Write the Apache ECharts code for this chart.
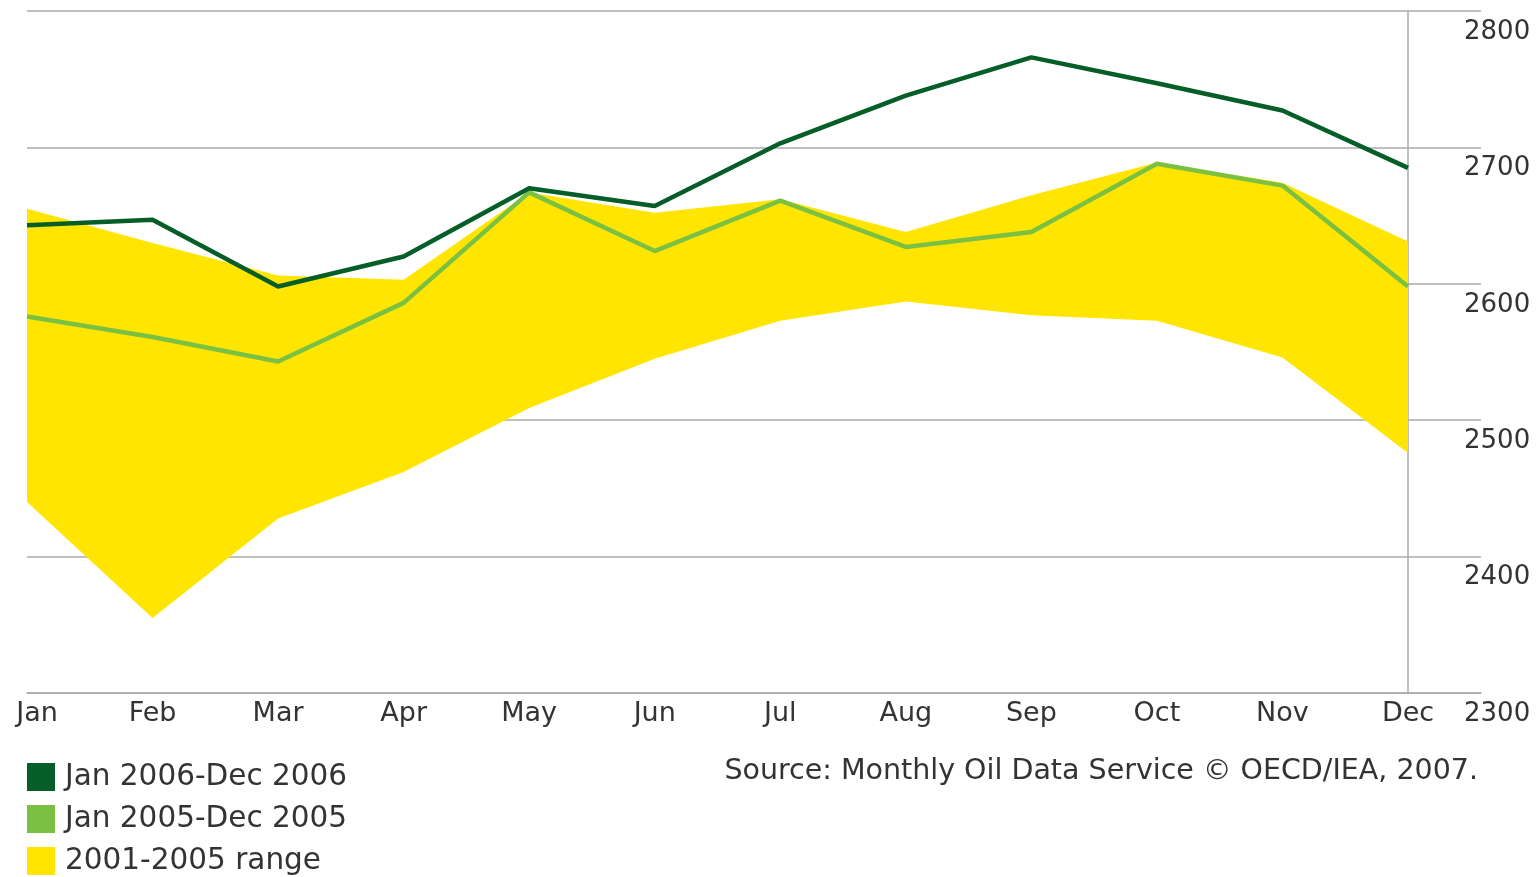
<!DOCTYPE html>
<html>
<head>
<meta charset="utf-8">
<script src="https://cdn.jsdelivr.net/npm/echarts@6/dist/echarts.min.js"></script>
<style>
html,body{margin:0;padding:0;background:#fff;}
#chart{width:1536px;height:877px;}
</style>
</head>
<body>
<div id="chart"></div>
<script>
var months = ['Jan','Feb','Mar','Apr','May','Jun','Jul','Aug','Sep','Oct','Nov','Dec'];
var y2006 = [2643,2647,2598,2620,2670,2657,2703,2738,2766,2747,2727,2685];
var y2005 = [2576,2561,2543,2586,2667,2624,2661,2627,2638,2688,2672,2598];
var rangeHigh = [2655,2630,2606,2603,2667,2652,2662,2638,2665,2689,2674,2631];
var rangeLow = [2440,2355,2428,2462,2509,2545,2573,2587,2577,2573,2546,2476];
var yMin = 2300, yMax = 2800, yStep = 100;
var seriesNames = ['Jan 2006-Dec 2006','Jan 2005-Dec 2005','2001-2005 range'];
var sourceText = 'Source: Monthly Oil Data Service \u00A9 OECD/IEA, 2007.';

var rangeDiff = rangeHigh.map(function(v,i){ return v - rangeLow[i]; });

var FONT = 'DejaVu Sans';
var GRID_GRAY = '#ababab';
var TEXT = '#333333';

function legendFor(name, top){
  return {
    orient: 'vertical',
    left: 27,
    top: top,
    padding: 0,
    itemWidth: 28,
    itemHeight: 28,
    icon: 'rect',
    data: [name],
    selectedMode: false,
    textStyle: { color: TEXT, fontFamily: FONT, fontSize: 29.5, padding: [0,0,0,5] }
  };
}

var chart = echarts.init(document.getElementById('chart'));
chart.setOption({
  animation: false,
  backgroundColor: '#ffffff',
  grid: [
    { left: 27, right: 128, top: 11, bottom: 184, containLabel: false },
    { left: 27, right: 55, top: 11, bottom: 184, containLabel: false }
  ],
  xAxis: [
    {
      gridIndex: 0,
      type: 'category',
      data: months,
      boundaryGap: false,
      axisLine: { show: false },
      axisTick: { show: false },
      splitLine: { show: false },
      axisLabel: {
        interval: 0,
        margin: 7,
        color: TEXT,
        fontFamily: FONT,
        fontSize: 27,
        formatter: function(v, i){
          if (i === 0) return '{first|' + v + '}';
          return v;
        },
        rich: { first: { padding: [0,0,0,20], color: TEXT, fontFamily: FONT, fontSize: 27 } }
      }
    },
    {
      gridIndex: 1,
      type: 'value',
      min: 0,
      max: 1,
      axisLine: { show: true, lineStyle: { color: GRID_GRAY, width: 1.5 } },
      axisTick: { show: false },
      axisLabel: { show: false },
      splitLine: { show: false }
    }
  ],
  yAxis: [
    {
      gridIndex: 0,
      type: 'value',
      position: 'right',
      min: yMin,
      max: yMax,
      interval: yStep,
      axisLine: { show: true, lineStyle: { color: GRID_GRAY, width: 1.5 } },
      axisTick: { show: false },
      axisLabel: { show: false },
      splitLine: { show: false }
    },
    {
      gridIndex: 1,
      type: 'value',
      position: 'right',
      min: yMin,
      max: yMax,
      interval: yStep,
      axisLine: { show: false },
      axisTick: { show: false },
      splitLine: { show: true, lineStyle: { color: GRID_GRAY, width: 1.5 } },
      axisLabel: {
        margin: -17,
        align: 'left',
        verticalAlign: 'top',
        padding: [8,0,0,0],
        color: TEXT,
        fontFamily: FONT,
        fontSize: 26,
        formatter: function(v){ return String(v); }
      }
    }
  ],
  legend: [
    legendFor(seriesNames[0], 762),
    legendFor(seriesNames[1], 804),
    legendFor(seriesNames[2], 846)
  ],
  graphic: [{
    type: 'text',
    right: 58,
    top: 757,
    style: { text: sourceText, fill: TEXT, font: '28.5px "DejaVu Sans"' }
  }],
  series: [
    {
      name: 'rangeLowBase',
      type: 'line',
      xAxisIndex: 0, yAxisIndex: 0,
      stack: 'range',
      data: rangeLow,
      symbol: 'none',
      lineStyle: { width: 0, opacity: 0 },
      silent: true,
      z: 1
    },
    {
      name: seriesNames[2],
      type: 'line',
      xAxisIndex: 0, yAxisIndex: 0,
      stack: 'range',
      data: rangeDiff,
      symbol: 'none',
      lineStyle: { width: 0, opacity: 0 },
      itemStyle: { color: '#ffe500' },
      areaStyle: { color: '#ffe500', opacity: 1 },
      z: 2
    },
    {
      name: seriesNames[1],
      type: 'line',
      xAxisIndex: 0, yAxisIndex: 0,
      data: y2005,
      symbol: 'none',
      itemStyle: { color: '#7ac143' },
      lineStyle: { color: '#7ac143', width: 4.5 },
      z: 3
    },
    {
      name: seriesNames[0],
      type: 'line',
      xAxisIndex: 0, yAxisIndex: 0,
      data: y2006,
      symbol: 'none',
      itemStyle: { color: '#055e28' },
      lineStyle: { color: '#055e28', width: 4.5 },
      z: 4
    }
  ]
});
</script>
</body>
</html>
